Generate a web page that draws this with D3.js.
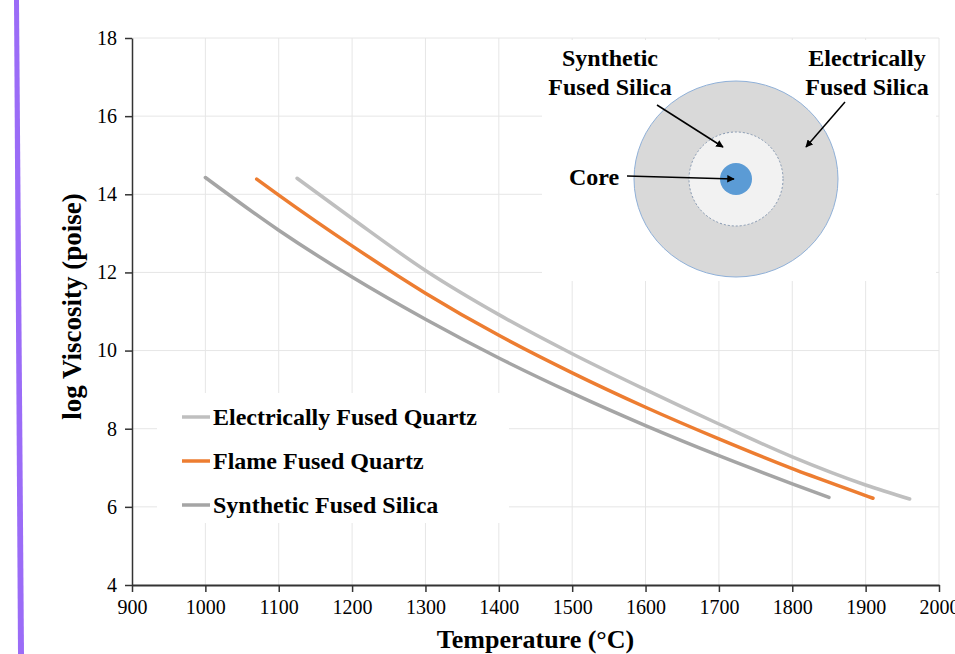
<!DOCTYPE html>
<html>
<head>
<meta charset="utf-8">
<script src="https://cdn.jsdelivr.net/npm/d3@7"></script>
<style>
  body { margin: 0; background: #fff; }
  svg { display: block; }
  .title { font-family: "Liberation Serif", "Times New Roman", serif; font-weight: bold; fill: #000; }
</style>
</head>
<body>
<div id="chart"></div>
<script>
// data
const series = ["Electrically Fused Quartz", "Flame Fused Quartz", "Synthetic Fused Silica"];
const colors = ["#bfbfbf", "#ed7d31", "#a5a5a5"];

const efqTemp = [1125, 1200, 1300, 1400, 1500, 1600, 1700, 1800, 1900, 1960];
const efqVisc = [14.41, 13.38, 12.05, 10.92, 9.92, 9.0, 8.12, 7.28, 6.56, 6.2];

const ffqTemp = [1070, 1100, 1200, 1300, 1400, 1500, 1600, 1700, 1800, 1900, 1910];
const ffqVisc = [14.39, 13.98, 12.68, 11.47, 10.39, 9.43, 8.55, 7.74, 6.98, 6.29, 6.22];

const sfsTemp = [1000, 1100, 1200, 1300, 1400, 1500, 1600, 1700, 1800, 1850];
const sfsVisc = [14.43, 13.08, 11.88, 10.8, 9.81, 8.91, 8.08, 7.31, 6.59, 6.24];

const xTicks = [900, 1000, 1100, 1200, 1300, 1400, 1500, 1600, 1700, 1800, 1900, 2000];
const yTicks = [4, 6, 8, 10, 12, 14, 16, 18];

const width = 955, height = 654;
const margin = {top: 38, right: 16, bottom: 69, left: 132};
const serif = '"Liberation Serif", "Times New Roman", serif';

const svg = d3.select("#chart")
  .append("svg")
    .attr("width", width)
    .attr("height", height);

// purple edge strip
svg.append("polygon")
  .attr("points", "14,0 19,0 24,654 18,654")
  .attr("fill", "#9b6cf7");

const x = d3.scaleLinear()
  .domain([900, 2000])
  .range([margin.left, width - margin.right]);

const y = d3.scaleLinear()
  .domain([4, 18])
  .range([height - margin.bottom, margin.top]);

// gridlines
svg.append("g")
  .selectAll("line")
  .data(xTicks.slice(1))
  .join("line")
    .attr("x1", d => x(d)).attr("x2", d => x(d))
    .attr("y1", y(18)).attr("y2", y(4))
    .attr("stroke", "#e6e6e6");
svg.append("g")
  .selectAll("line")
  .data(yTicks.slice(1))
  .join("line")
    .attr("x1", x(900)).attr("x2", x(2000))
    .attr("y1", d => y(d)).attr("y2", d => y(d))
    .attr("stroke", "#e6e6e6");

// X axis
const xAxis = svg.append("g")
  .attr("transform", `translate(0, ${y(4)})`)
  .call(d3.axisBottom(x).tickValues(xTicks).tickFormat(d3.format("d"))
    .tickSize(7).tickSizeOuter(0).tickPadding(8));
xAxis.attr("font-family", serif).attr("font-size", 20);
xAxis.select(".domain").attr("stroke", "#333").attr("stroke-width", 2);
xAxis.selectAll(".tick line").attr("stroke", "#333").attr("stroke-width", 1.5);
xAxis.selectAll("text").attr("fill", "#000");

// Y axis
const yAxis = svg.append("g")
  .attr("transform", `translate(${x(900)}, 0)`)
  .call(d3.axisLeft(y).tickValues(yTicks).tickFormat(d3.format("d"))
    .tickSize(7).tickSizeOuter(0).tickPadding(8));
yAxis.attr("font-family", serif).attr("font-size", 20);
yAxis.select(".domain").attr("stroke", "#333").attr("stroke-width", 1.5);
yAxis.selectAll(".tick line").attr("stroke", "#333").attr("stroke-width", 1.5);
yAxis.selectAll("text").attr("fill", "#000");

// axis titles
svg.append("text")
  .attr("class", "title")
  .attr("x", (x(900) + x(2000)) / 2)
  .attr("y", 648)
  .attr("text-anchor", "middle")
  .attr("font-size", 26)
  .text("Temperature (°C)");

svg.append("text")
  .attr("class", "title")
  .attr("transform", `translate(81, ${(y(4) + y(18)) / 2 - 5}) rotate(-90)`)
  .attr("text-anchor", "middle")
  .attr("font-size", 27)
  .text("log Viscosity (poise)");

// curves
const lineData = [
  efqTemp.map((t, i) => [t, efqVisc[i]]),
  ffqTemp.map((t, i) => [t, ffqVisc[i]]),
  sfsTemp.map((t, i) => [t, sfsVisc[i]])
];

const line = d3.line()
  .x(d => x(d[0]))
  .y(d => y(d[1]))
  .curve(d3.curveMonotoneX);

// legend box (white, hides gridlines)
svg.append("rect")
  .attr("x", 157).attr("y", 393)
  .attr("width", 352).attr("height", 130)
  .attr("fill", "#fff");

svg.append("g")
  .selectAll("path")
  .data(lineData)
  .join("path")
    .attr("d", line)
    .attr("fill", "none")
    .attr("stroke", (d, i) => colors[i])
    .attr("stroke-width", 3.5)
    .attr("stroke-linecap", "round");

// legend
const legend = svg.append("g");
series.forEach((name, i) => {
  const ly = 417 + i * 44;
  legend.append("line")
    .attr("x1", 182).attr("x2", 210)
    .attr("y1", ly).attr("y2", ly)
    .attr("stroke", colors[i])
    .attr("stroke-width", 3.5);
  legend.append("text")
    .attr("class", "title")
    .attr("x", 213)
    .attr("y", ly + 8)
    .attr("font-size", 24)
    .text(name);
});

// inset: cross-section of the fibre
const inset = svg.append("g");
inset.append("rect")
  .attr("x", 542).attr("y", 40)
  .attr("width", 394).attr("height", 241)
  .attr("fill", "#fff");

const cx = 736, cy = 179;
inset.append("ellipse")
  .attr("cx", cx).attr("cy", cy)
  .attr("rx", 102).attr("ry", 98)
  .attr("fill", "#d9d9d9")
  .attr("stroke", "#8fb0d8")
  .attr("stroke-width", 1);
inset.append("circle")
  .attr("cx", cx).attr("cy", cy)
  .attr("r", 47)
  .attr("fill", "#f2f2f2")
  .attr("stroke", "#8497b0")
  .attr("stroke-width", 1)
  .attr("stroke-dasharray", "2,2");
inset.append("circle")
  .attr("cx", cx).attr("cy", cy)
  .attr("r", 16)
  .attr("fill", "#5b9bd5");

svg.append("defs").append("marker")
  .attr("id", "arrow")
  .attr("viewBox", "0 0 10 10")
  .attr("refX", 9).attr("refY", 5)
  .attr("markerWidth", 5).attr("markerHeight", 5)
  .attr("orient", "auto")
  .append("path")
    .attr("d", "M0,0 L10,5 L0,10 z")
    .attr("fill", "#000");

const arrows = [
  [657, 105, 723, 147],
  [845, 102, 806, 147],
  [627, 176, 734, 179]
];
inset.selectAll("line.arrow")
  .data(arrows)
  .join("line")
    .attr("class", "arrow")
    .attr("x1", d => d[0]).attr("y1", d => d[1])
    .attr("x2", d => d[2]).attr("y2", d => d[3])
    .attr("stroke", "#000")
    .attr("stroke-width", 1.5)
    .attr("marker-end", "url(#arrow)");

const insetLabels = [
  {text: ["Synthetic", "Fused Silica"], x: 610, y: 66},
  {text: ["Electrically", "Fused Silica"], x: 867, y: 66},
  {text: ["Core"], x: 594, y: 185}
];
insetLabels.forEach(l => {
  l.text.forEach((t, j) => {
    inset.append("text")
      .attr("class", "title")
      .attr("x", l.x)
      .attr("y", l.y + j * 29)
      .attr("text-anchor", "middle")
      .attr("font-size", 24)
      .text(t);
  });
});
</script>
</body>
</html>
